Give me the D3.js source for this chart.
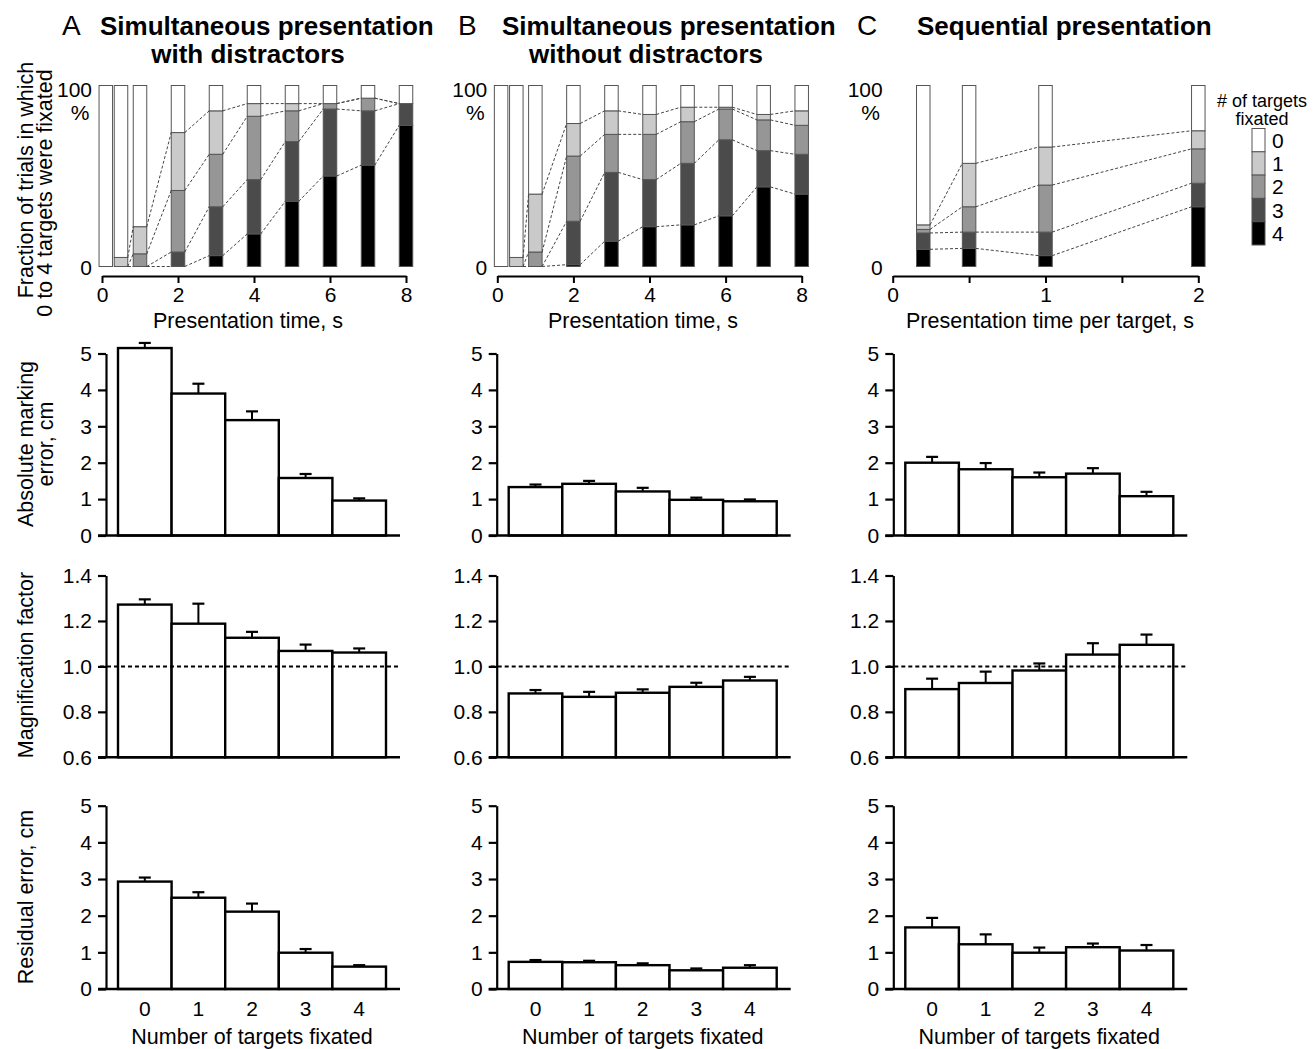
<!DOCTYPE html>
<html>
<head>
<meta charset="utf-8">
<script src="https://cdn.jsdelivr.net/npm/d3@7.9.0/dist/d3.min.js"></script>
<style>
  body { margin: 0; background: #fff; }
  svg { display: block; font-family: "Liberation Sans", Arial, Helvetica, sans-serif; }
</style>
</head>
<body>
<svg id="fig" width="1316" height="1049"></svg>
<script>
// ---- top row: % of trials in which n targets were fixated ----
const timesA = [0.1, 0.5, 1, 2, 3, 4, 5, 6, 7, 8];
const fix4A = [0, 0, 0, 0, 6, 18, 36, 50, 56, 78];
const fix3A = [0, 0, 0, 8, 27, 30, 33, 37, 30, 12];
const fix2A = [0, 0, 7, 34, 29, 35, 17, 3, 7, 0];
const fix1A = [0, 5, 15, 32, 24, 7, 4, 0, 0, 0];

const timesB = [0.1, 0.5, 1, 2, 3, 4, 5, 6, 7, 8];
const fix4B = [0, 0, 0, 1, 14, 22, 23, 28, 44, 40];
const fix3B = [0, 0, 0, 24, 38, 26, 34, 42, 20, 22];
const fix2B = [0, 0, 8, 36, 21, 25, 23, 17, 17, 16];
const fix1B = [0, 5, 32, 18, 13, 11, 8, 1, 3, 8];

const timesC = [0.2, 0.5, 1, 2];
const fix4C = [9.5, 10, 6, 33];
const fix3C = [9, 9, 13, 13];
const fix2C = [2, 14, 26, 19];
const fix1C = [2.5, 24, 21, 10];

const fixLevels = ["0", "1", "2", "3", "4"];
const levelColors = ["#ffffff", "#cacaca", "#969696", "#4b4b4b", "#000000"];

// ---- bar rows: mean and SE by number of targets fixated ----
const fixCats = ["0", "1", "2", "3", "4"];
const absErrA = [5.15, 3.9, 3.17, 1.58, 0.96];
const absErrSeA = [0.14, 0.27, 0.24, 0.11, 0.06];
const absErrB = [1.33, 1.42, 1.21, 0.98, 0.94];
const absErrSeB = [0.07, 0.08, 0.10, 0.06, 0.05];
const absErrC = [2.0, 1.82, 1.60, 1.70, 1.08];
const absErrSeC = [0.16, 0.17, 0.13, 0.15, 0.12];

const magA = [1.272, 1.188, 1.126, 1.068, 1.061];
const magSeA = [0.023, 0.088, 0.026, 0.028, 0.018];
const magB = [0.881, 0.866, 0.884, 0.910, 0.938];
const magSeB = [0.015, 0.022, 0.015, 0.018, 0.016];
const magC = [0.90, 0.927, 0.982, 1.052, 1.095];
const magSeC = [0.046, 0.05, 0.031, 0.05, 0.045];

const resA = [2.93, 2.49, 2.11, 0.99, 0.61];
const resSeA = [0.11, 0.15, 0.22, 0.10, 0.04];
const resB = [0.74, 0.73, 0.65, 0.51, 0.58];
const resSeB = [0.05, 0.04, 0.05, 0.05, 0.07];
const resC = [1.68, 1.22, 0.99, 1.14, 1.05];
const resSeC = [0.26, 0.27, 0.14, 0.10, 0.15];

const svg = d3.select("#fig");

function txt(x, y, s, size, opts = {}) {
  const t = svg.append("text")
    .attr("x", x).attr("y", y)
    .attr("font-size", size)
    .attr("text-anchor", opts.anchor || "start")
    .attr("font-weight", opts.bold ? "bold" : null)
    .text(s);
  if (opts.rotate) t.attr("transform", `rotate(-90,${x},${y})`);
  return t;
}

function styleAxis(g, w) {
  g.selectAll("path.domain").attr("stroke", "#000").attr("stroke-width", w);
  g.selectAll(".tick line").attr("stroke", "#000").attr("stroke-width", w);
  g.selectAll(".tick text").attr("font-size", 21).attr("fill", "#000")
    .attr("font-family", "Liberation Sans, Arial, sans-serif");
}

// stacked bars of fixated-target fractions
function stackPanel(times, f4, f3, f2, f1, x0, x1, tmax, ticks, firstLink) {
  const g = svg.append("g");
  const x = d3.scaleLinear().domain([0, tmax]).range([x0, x1]);
  const y = d3.scaleLinear().domain([0, 100]).range([266.5, 85.5]);
  const rows = times.map((t, i) => ({
    t, l4: f4[i], l3: f3[i], l2: f2[i], l1: f1[i],
    l0: 100 - f4[i] - f3[i] - f2[i] - f1[i]
  }));
  const series = d3.stack().keys(["l4", "l3", "l2", "l1", "l0"])(rows);
  const bw = 13.5;

  series.forEach((s, k) => {
    g.selectAll(null).data(s).join("rect")
      .attr("x", d => x(d.data.t) - bw / 2)
      .attr("y", d => y(d[1]))
      .attr("width", bw)
      .attr("height", d => y(d[0]) - y(d[1]))
      .attr("fill", levelColors[4 - k])
      .attr("stroke", "#555")
      .attr("stroke-width", 1);
  });

  // dashed lines joining the same boundary on neighbouring bars
  for (let k = 0; k < 4; k++) {
    for (let i = firstLink; i < rows.length - 1; i++) {
      g.append("line")
        .attr("x1", x(times[i]) + bw / 2).attr("y1", y(series[k][i][1]))
        .attr("x2", x(times[i + 1]) - bw / 2).attr("y2", y(series[k][i + 1][1]))
        .attr("stroke", "#444").attr("stroke-width", 1)
        .attr("stroke-dasharray", "3,2");
    }
  }

  const ax = g.append("g").attr("transform", "translate(0,276)")
    .call(d3.axisBottom(x).tickValues(ticks).tickSize(7).tickSizeOuter(0).tickPadding(4)
      .tickFormat(d => Number.isInteger(d) ? d : ""));
  styleAxis(ax, 2);

  txt(x0 - 10, y(100) + 11.5, "100", 21, { anchor: "end" });
  txt(x0 - 22, y(100) + 34, "%", 21, { anchor: "middle" });
  txt(x0 - 10, y(0) + 8.5, "0", 21, { anchor: "end" });
}

// white bars with upward SE whiskers
function barPanel(vals, errs, axX, yBot, yTop, domain, tickVals, fmt, refLine, showCats) {
  const g = svg.append("g");
  const x = d3.scaleBand().domain(fixCats).range([axX + 12, axX + 280]).padding(0);
  const y = d3.scaleLinear().domain(domain).range([yBot, yTop]);
  const data = fixCats.map((c, i) => ({ c, v: vals[i], e: errs[i] }));

  g.selectAll(null).data(data).join("rect")
    .attr("x", d => x(d.c))
    .attr("y", d => y(d.v))
    .attr("width", x.bandwidth())
    .attr("height", d => yBot - y(d.v))
    .attr("fill", "#fff").attr("stroke", "#000").attr("stroke-width", 2.4);

  g.selectAll(null).data(data).join("line")
    .attr("x1", d => x(d.c) + x.bandwidth() / 2).attr("x2", d => x(d.c) + x.bandwidth() / 2)
    .attr("y1", d => y(d.v)).attr("y2", d => y(d.v + d.e))
    .attr("stroke", "#000").attr("stroke-width", 2);
  g.selectAll(null).data(data).join("line")
    .attr("x1", d => x(d.c) + x.bandwidth() / 2 - 6).attr("x2", d => x(d.c) + x.bandwidth() / 2 + 6)
    .attr("y1", d => y(d.v + d.e)).attr("y2", d => y(d.v + d.e))
    .attr("stroke", "#000").attr("stroke-width", 2.2);

  if (refLine !== null) {
    g.append("line")
      .attr("x1", axX - 6).attr("x2", axX + 292)
      .attr("y1", y(refLine)).attr("y2", y(refLine))
      .attr("stroke", "#000").attr("stroke-width", 2)
      .attr("stroke-dasharray", "4,3");
  }

  g.append("line")
    .attr("x1", axX - 8).attr("x2", axX + 294)
    .attr("y1", yBot).attr("y2", yBot)
    .attr("stroke", "#000").attr("stroke-width", 2.4);

  const ay = g.append("g").attr("transform", `translate(${axX},0)`)
    .call(d3.axisLeft(y).tickValues(tickVals).tickSize(8).tickSizeOuter(0).tickPadding(6).tickFormat(fmt));
  styleAxis(ay, 2.2);

  if (showCats) {
    const axc = g.append("g").attr("transform", `translate(0,${yBot})`)
      .call(d3.axisBottom(x).tickSize(0).tickPadding(12));
    axc.select("path.domain").remove();
    styleAxis(axc, 0);
  }
}

// ---- titles ----
txt(62, 35, "A", 28);
txt(100, 35, "Simultaneous presentation", 26, { bold: true });
txt(248, 63, "with distractors", 26, { bold: true, anchor: "middle" });
txt(458, 35, "B", 28);
txt(502, 35, "Simultaneous presentation", 26, { bold: true });
txt(646, 63, "without distractors", 26, { bold: true, anchor: "middle" });
txt(857, 35, "C", 28);
txt(917, 35, "Sequential presentation", 26, { bold: true });

// ---- top row ----
stackPanel(timesA, fix4A, fix3A, fix2A, fix1A, 102, 406, 8, [0, 2, 4, 6, 8], 1);
stackPanel(timesB, fix4B, fix3B, fix2B, fix1B, 497.3, 801.7, 8, [0, 2, 4, 6, 8], 1);
stackPanel(timesC, fix4C, fix3C, fix2C, fix1C, 892.7, 1198.3, 2, [0, 0.5, 1, 1.5, 2], 0);

txt(248, 328, "Presentation time, s", 21.5, { anchor: "middle" });
txt(643, 328, "Presentation time, s", 21.5, { anchor: "middle" });
txt(1050, 328, "Presentation time per target, s", 21.5, { anchor: "middle" });

txt(33, 180, "Fraction of trials in which", 21.5, { anchor: "middle", rotate: true });
txt(52, 193, "0 to 4 targets were fixated", 21.5, { anchor: "middle", rotate: true });

// legend
txt(1262, 107, "# of targets", 18, { anchor: "middle" });
txt(1262, 125, "fixated", 18, { anchor: "middle" });
const ly = d3.scaleBand().domain(fixLevels).range([128.5, 245]);
const lg = svg.append("g");
lg.selectAll(null).data(fixLevels).join("rect")
  .attr("x", 1252).attr("y", d => ly(d))
  .attr("width", 13).attr("height", ly.bandwidth())
  .attr("fill", (d, i) => levelColors[i])
  .attr("stroke", "#555").attr("stroke-width", 1);
lg.selectAll(null).data(fixLevels).join("text")
  .attr("x", 1272).attr("y", d => ly(d) + ly.bandwidth() / 2 + 7.5)
  .attr("font-size", 21).text(d => d);

// ---- bar rows ----
const cols = [106, 496.7, 893.3];
const f0 = d3.format("d"), f1 = d3.format(".1f");

barPanel(absErrA, absErrSeA, cols[0], 535.5, 353.5, [0, 5], [0, 1, 2, 3, 4, 5], f0, null, false);
barPanel(absErrB, absErrSeB, cols[1], 535.5, 353.5, [0, 5], [0, 1, 2, 3, 4, 5], f0, null, false);
barPanel(absErrC, absErrSeC, cols[2], 535.5, 353.5, [0, 5], [0, 1, 2, 3, 4, 5], f0, null, false);

barPanel(magA, magSeA, cols[0], 757.3, 575.5, [0.6, 1.4], [0.6, 0.8, 1.0, 1.2, 1.4], f1, 1.0, false);
barPanel(magB, magSeB, cols[1], 757.3, 575.5, [0.6, 1.4], [0.6, 0.8, 1.0, 1.2, 1.4], f1, 1.0, false);
barPanel(magC, magSeC, cols[2], 757.3, 575.5, [0.6, 1.4], [0.6, 0.8, 1.0, 1.2, 1.4], f1, 1.0, false);

barPanel(resA, resSeA, cols[0], 989, 805.7, [0, 5], [0, 1, 2, 3, 4, 5], f0, null, true);
barPanel(resB, resSeB, cols[1], 989, 805.7, [0, 5], [0, 1, 2, 3, 4, 5], f0, null, true);
barPanel(resC, resSeC, cols[2], 989, 805.7, [0, 5], [0, 1, 2, 3, 4, 5], f0, null, true);

txt(33, 444, "Absolute marking", 21.5, { anchor: "middle", rotate: true });
txt(53, 444, "error, cm", 21.5, { anchor: "middle", rotate: true });
txt(33, 665, "Magnification factor", 21.5, { anchor: "middle", rotate: true });
txt(33, 897, "Residual error, cm", 21.5, { anchor: "middle", rotate: true });

cols.forEach(c => txt(c + 146, 1044, "Number of targets fixated", 21.5, { anchor: "middle" }));
</script>
</body>
</html>
